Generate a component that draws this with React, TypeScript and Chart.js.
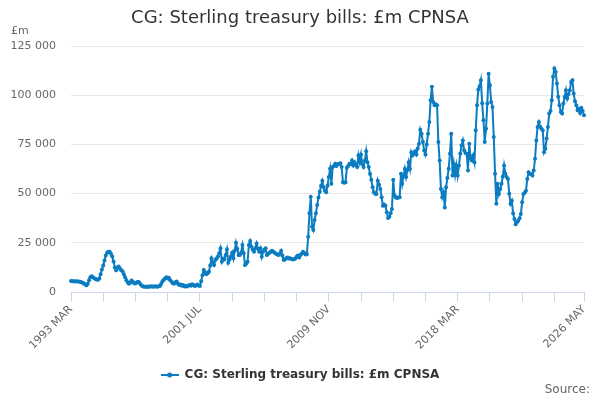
import React, { useEffect, useRef } from 'react';
import { Chart, registerables } from 'chart.js';

Chart.register(...registerables);

const TITLE = 'CG: Sterling treasury bills: £m CPNSA';
const SERIES_NAME = 'CG: Sterling treasury bills: £m CPNSA';
const UNIT_LABEL = '£m';
const SOURCE_LABEL = 'Source:';

const MONTH_NAMES = ['JAN', 'FEB', 'MAR', 'APR', 'MAY', 'JUN', 'JUL', 'AUG', 'SEP', 'OCT', 'NOV', 'DEC'];
const START_YEAR = 1993;
const START_MONTH_INDEX = 2; // MAR

// 1993 MAR - 2001 JUN
const values1993to2001 = [
  5600, 5500, 5500, 5400, 5500, 5400, 5300, 5200, 5000, 4700,
  4300, 3800, 3400, 4200, 6000, 7500, 8000, 7500, 7000, 6600,
  6300, 6200, 6800, 9000, 11500, 13500, 16000, 18500, 20000, 20500,
  20500, 19500, 18000, 15500, 12500, 11000, 12500, 13000, 12000, 11000,
  10500, 9000, 7500, 6000, 4800, 4200, 4800, 5800, 5200, 4500,
  4300, 4800, 5200, 4800, 3800, 3200, 2800, 2700, 2800, 2600,
  2800, 2700, 2900, 2800, 2700, 2900, 2800, 2700, 2900, 3000,
  4200, 5500, 6200, 6800, 7500, 6800, 7200, 6000, 5200, 4500,
  4200, 5000, 5300, 4200, 3500, 3800, 3200, 3500, 2800, 3000,
  2800, 3300, 3600, 3200, 3900, 3600, 3000, 3300, 3800, 3300,
];

// 2001 JUL - 2009 OCT
const values2001to2009 = [
  3000, 5500, 8500, 11200, 10000, 9000, 9500, 10300, 13500, 17100,
  15000, 13700, 16300, 17000, 18000, 19700, 22200, 15400, 17000, 16500,
  18800, 21700, 14900, 16500, 18000, 20000, 17100, 21000, 25000, 22000,
  18800, 18800, 20000, 23900, 19700, 13700, 14500, 15400, 23900, 25900,
  23000, 21500, 20500, 22200, 24700, 22000, 20500, 22200, 17900, 20500,
  21500, 22200, 18800, 19500, 20000, 20500, 21000, 20500, 20000, 19500,
  19000, 18800, 19500, 21000, 18500, 16300, 16500, 17100, 17500, 17000,
  17100, 16800, 16500, 16600, 17000, 17900, 18500, 17500, 18800, 19500,
  20500, 19800, 19000, 19200, 28100, 40000, 48400, 33200, 31500, 36600,
  40000, 44200, 48000, 51000, 54000, 56500, 53200, 51500, 50700, 54000,
];

// 2009 NOV - 2018 FEB
const values2009to2018 = [
  58400, 62600, 55000, 63500, 64000, 65200, 64000, 65000, 65200, 65500,
  63500, 55800, 55500, 55800, 63100, 64000, 65200, 65000, 66900, 64300,
  66000, 64500, 63500, 69400, 66000, 69900, 65000, 63500, 66900, 71600,
  66000, 63500, 60000, 57000, 53200, 50700, 50000, 49800, 56600, 54500,
  52400, 48200, 43900, 44500, 43900, 40500, 37600, 38300, 40000, 42200,
  57000, 49000, 48000, 47800, 48000, 48200, 60100, 55000, 59000, 62600,
  58400, 62000, 66000, 62600, 71100, 69400, 70500, 71600, 69900, 73000,
  75400, 82500, 80500, 76200, 71900, 69900, 75000, 80500, 86400, 97500,
  104300, 96600, 94900, 95500, 94900, 76200, 66900, 52400, 48200, 50700,
  43000, 53200, 58000, 62600, 70300, 80500, 59200, 65200, 59500, 64300,
];

// 2018 MAR - 2026 MAY
const values2018to2026 = [
  59200, 64300, 70300, 74600, 77000, 72000, 70600, 70300, 61800, 75400,
  68000, 66900, 69400, 66000, 82200, 94900, 102900, 104600, 107700, 96000,
  87300, 76200, 83000, 95800, 111000, 105100, 96600, 94000, 78800, 60100,
  44800, 55000, 49800, 52400, 55000, 58700, 64300, 60100, 58400, 57500,
  50000, 44800, 46400, 40000, 37100, 34500, 35400, 36200, 37500, 39600,
  45600, 49800, 50500, 51500, 57500, 60900, 60100, 60000, 59200, 61800,
  67700, 77000, 83900, 86400, 84000, 83000, 82200, 71100, 72800, 78000,
  83900, 90700, 92000, 97500, 109400, 113600, 111900, 106000, 99200, 94900,
  91500, 90700, 95800, 99200, 102600, 98300, 100500, 102600, 106800, 107700,
  100900, 97000, 94900, 92400, 93200, 91000, 93500, 92000, 89800,
];

const seriesValues = [...values1993to2001, ...values2001to2009, ...values2009to2018, ...values2018to2026];

const categories = seriesValues.map((_, i) => {
  const m = START_MONTH_INDEX + i;
  return `${START_YEAR + Math.floor(m / 12)} ${MONTH_NAMES[m % 12]}`;
});

const Y_MIN = 0;
const Y_MAX = 125000;
const Y_STEP = 25000;

const LINE_COLOR = '#0b7cc1';
const FONT = '"DejaVu Sans", Verdana, sans-serif';

function formatThousands(v: number): string {
  return String(v).replace(/\B(?=(\d{3})+(?!\d))/g, ' ');
}

export default function App() {
  const canvasRef = useRef<HTMLCanvasElement | null>(null);

  useEffect(() => {
    document.body.style.margin = '0';
    const canvas = canvasRef.current;
    if (!canvas) return;

    const legendIcon = document.createElement('canvas');
    legendIcon.width = 18;
    legendIcon.height = 8;
    const ictx = legendIcon.getContext('2d');
    if (ictx) {
      ictx.strokeStyle = LINE_COLOR;
      ictx.fillStyle = LINE_COLOR;
      ictx.lineWidth = 2;
      ictx.beginPath();
      ictx.moveTo(0, 4);
      ictx.lineTo(18, 4);
      ictx.stroke();
      ictx.beginPath();
      ictx.arc(9, 4, 2.5, 0, Math.PI * 2);
      ictx.fill();
    }

    const extraText = {
      id: 'extraText',
      afterDraw(chart: any) {
        const ctx = chart.ctx;
        ctx.save();
        ctx.fillStyle = '#666666';
        ctx.font = `11px ${FONT}`;
        ctx.textBaseline = 'middle';
        ctx.textAlign = 'left';
        ctx.fillText(UNIT_LABEL, 11, 31);
        ctx.font = `12px ${FONT}`;
        ctx.textAlign = 'right';
        ctx.fillText(SOURCE_LABEL, 590, 390);
        ctx.restore();
      },
    };

    const last = categories.length - 1;

    const chart = new Chart(canvas, {
      type: 'line',
      data: {
        labels: categories,
        datasets: [
          {
            label: SERIES_NAME,
            data: seriesValues,
            borderColor: LINE_COLOR,
            backgroundColor: LINE_COLOR,
            borderWidth: 2,
            pointRadius: 2,
            pointHoverRadius: 3,
            pointBorderWidth: 0,
            pointBackgroundColor: LINE_COLOR,
            tension: 0,
            fill: false,
            yAxisID: 'y',
          },
        ],
      },
      options: {
        responsive: false,
        animation: false,
        devicePixelRatio: 1,
        layout: { padding: { left: 0, right: 0, top: 0, bottom: 9 } },
        plugins: {
          title: {
            display: true,
            text: TITLE,
            color: '#333333',
            font: { family: FONT, size: 18, weight: 'normal' },
            padding: { top: 8, bottom: 16.5 },
          },
          legend: {
            display: true,
            position: 'bottom',
            labels: {
              usePointStyle: true,
              pointStyle: legendIcon as any,
              pointStyleWidth: 18,
              color: '#333333',
              font: { family: FONT, size: 12, weight: 'bold' },
              padding: 10,
            },
          },
          tooltip: { enabled: false },
        },
        scales: {
          x: {
            type: 'category',
            offset: false,
            grid: {
              display: true,
              drawOnChartArea: false,
              drawTicks: true,
              tickLength: 10,
              color: '#ccd6eb',
            },
            border: { display: true, color: '#ccd6eb', width: 1 },
            ticks: {
              autoSkip: false,
              maxRotation: 45,
              minRotation: 45,
              color: '#666666',
              font: { family: FONT, size: 11 },
              padding: 1,
              callback: (_value: any, index: number) => {
                if (index % 100 === 0 || index === last) return categories[index];
                if (index % 25 === 0) return '';
                return null;
              },
            },
            afterFit: (scale: any) => {
              scale.height = 67;
            },
          },
          y: {
            position: 'left',
            min: Y_MIN,
            max: Y_MAX,
            grid: { color: '#e6e6e6', drawTicks: false },
            border: { display: false },
            ticks: {
              stepSize: Y_STEP,
              color: '#666666',
              font: { family: FONT, size: 11 },
              padding: 15,
              callback: (v: any) => formatThousands(Number(v)),
            },
            afterFit: (scale: any) => {
              scale.width = 71;
            },
          },
          spacer: {
            type: 'linear',
            position: 'right',
            display: true,
            min: Y_MIN,
            max: Y_MAX,
            grid: { display: false, drawTicks: false },
            border: { display: false },
            ticks: { display: false },
            afterFit: (scale: any) => {
              scale.width = 16;
            },
          },
        },
      },
      plugins: [extraText],
    });

    return () => {
      chart.destroy();
    };
  }, []);

  return (
    <div style={{ width: 600, height: 400, position: 'relative' }}>
      <canvas ref={canvasRef} width={600} height={400} />
    </div>
  );
}
